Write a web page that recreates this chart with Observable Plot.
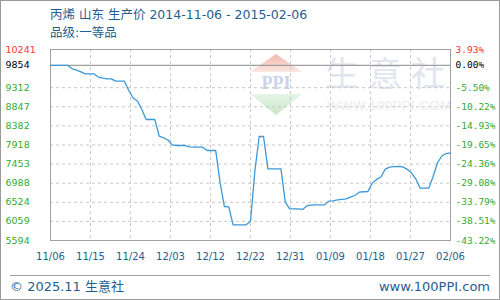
<!DOCTYPE html>
<html>
<head>
<meta charset="utf-8">
<script src="https://cdn.jsdelivr.net/npm/d3@7"></script>
<script src="https://cdn.jsdelivr.net/npm/@observablehq/plot@0.6"></script>
<style>
  body { margin: 0; background: #fff; }
  #wrap { position: relative; width: 500px; height: 300px; overflow: hidden; background: #fff; font-family: "DejaVu Sans", "Noto Sans CJK SC", sans-serif; }
  .abs { position: absolute; }
  #title { left: 50px; top: 6px; font-size: 12.5px; color: #1f5e8e; white-space: nowrap; line-height: 18px; }
  #sub { left: 50px; top: 24px; font-size: 12.5px; color: #1f5e8e; white-space: nowrap; line-height: 18px; }
  #footline { left: 10px; top: 275px; width: 480px; height: 0; border-top: 1px solid #a0a0a0; }
  #copy { left: 10px; top: 278px; font-size: 13px; color: #1f5e8e; line-height: 18px; white-space: nowrap; }
  #site { right: 10px; top: 278px; font-size: 13px; color: #1f5e8e; line-height: 18px; white-space: nowrap; }
  #border { left: 0; top: 0; width: 500px; height: 300px; box-sizing: border-box; border: 1px solid #9a9a9a; pointer-events: none; }
  #wm1 { left: 325px; top: 50px; font-size: 34px; color: #e1e5ee; letter-spacing: 9px; white-space: nowrap; font-family: "Noto Sans CJK SC", sans-serif; line-height: 44px; }
  #wm2 { left: 327px; top: 98px; font-size: 13px; color: #ececec; white-space: nowrap; letter-spacing: 0.6px; font-family: "Liberation Sans", sans-serif; line-height: 16px; }
  #chart { left: 0; top: 0; }
</style>
</head>
<body>
<div id="wrap">
  <svg class="abs" style="left:249px;top:53px" width="54" height="64">
    <defs>
      <linearGradient id="gr" x1="0" y1="0" x2="0" y2="1">
        <stop offset="0" stop-color="#f4b8ae"/><stop offset="1" stop-color="#fbe6e2"/>
      </linearGradient>
      <linearGradient id="gg" x1="0" y1="0" x2="0" y2="1">
        <stop offset="0" stop-color="#e6f4e6"/><stop offset="1" stop-color="#c9e6c9"/>
      </linearGradient>
    </defs>
    <polygon points="27,1 1,19 53,19" fill="url(#gr)"/>
    <text x="27" y="36" text-anchor="middle" font-family="Liberation Serif, serif" font-weight="bold" font-size="18" fill="#c9d3ea">PPI</text>
    <polygon points="1,41 53,41 27,62" fill="url(#gg)"/>
  </svg>
  <div id="wm1" class="abs">生意社</div>
  <div id="wm2" class="abs">WWW.100PPI.COM</div>
  <div id="chart" class="abs"></div>
  <div id="title" class="abs">丙烯 山东 生产价 2014-11-06 - 2015-02-06</div>
  <div id="sub" class="abs">品级:一等品</div>
  <div id="footline" class="abs"></div>
  <div id="copy" class="abs">© 2025.11 生意社</div>
  <div id="site" class="abs">www.100PPI.com</div>
  <div id="border" class="abs"></div>
</div>
<script>
const dates = [
  "2014-11-06","2014-11-07","2014-11-08","2014-11-09","2014-11-10","2014-11-11","2014-11-12","2014-11-13","2014-11-14","2014-11-15",
  "2014-11-16","2014-11-17","2014-11-18","2014-11-19","2014-11-20","2014-11-21","2014-11-22","2014-11-23","2014-11-24","2014-11-25",
  "2014-11-26","2014-11-27","2014-11-28","2014-11-29","2014-11-30","2014-12-01","2014-12-02","2014-12-03","2014-12-04","2014-12-05",
  "2014-12-06","2014-12-07","2014-12-08","2014-12-09","2014-12-10","2014-12-11","2014-12-12","2014-12-13","2014-12-14","2014-12-15",
  "2014-12-16","2014-12-17","2014-12-18","2014-12-19","2014-12-20","2014-12-21","2014-12-22","2014-12-23","2014-12-24","2014-12-25",
  "2014-12-26","2014-12-27","2014-12-28","2014-12-29","2014-12-30","2014-12-31","2015-01-01","2015-01-02","2015-01-03","2015-01-04",
  "2015-01-05","2015-01-06","2015-01-07","2015-01-08","2015-01-09","2015-01-10","2015-01-11","2015-01-12","2015-01-13","2015-01-14",
  "2015-01-15","2015-01-16","2015-01-17","2015-01-18","2015-01-19","2015-01-20","2015-01-21","2015-01-22","2015-01-23","2015-01-24",
  "2015-01-25","2015-01-26","2015-01-27","2015-01-28","2015-01-29","2015-01-30","2015-01-31","2015-02-01","2015-02-02","2015-02-03",
  "2015-02-04","2015-02-05","2015-02-06"
];
const prices = [
  9854, 9854, 9854, 9854, 9854, 9770, 9740, 9695, 9650, 9650,
  9650, 9570, 9545, 9528, 9528, 9470, 9470, 9470, 9243, 9060,
  8990, 8780, 8538, 8538, 8538, 8132, 8093, 8040, 7920, 7905,
  7905, 7905, 7870, 7864, 7864, 7864, 7784, 7784, 7784, 7000,
  6421, 6410, 5976, 5976, 5976, 5976, 6060, 7280, 8124, 8124,
  7338, 7338, 7338, 7338, 6526, 6365, 6365, 6365, 6350, 6440,
  6455, 6463, 6463, 6463, 6550, 6560, 6580, 6595, 6609, 6650,
  6689, 6769, 6780, 6786, 6990, 7080, 7140, 7330, 7377, 7390,
  7394, 7385, 7330, 7241, 7095, 6870, 6866, 6866, 7150, 7480,
  7650, 7710, 7728
];
const xLabels = ["11/06","11/15","11/24","12/03","12/12","12/22","12/31","01/09","01/18","01/27","02/06"];
const yTicks = [10241, 9854, 9312, 8847, 8382, 7918, 7453, 6988, 6524, 6059, 5594];
const pctLabels = ["3.93%","0.00%","-5.50%","-10.22%","-14.93%","-19.65%","-24.36%","-29.08%","-33.79%","-38.51%","-43.22%"];
const baseValue = 9854;

const start = new Date(dates[0]);
const dayIdx = dates.map(s => Math.round((new Date(s) - start) / 864e5));
const nDays = dayIdx[dayIdx.length - 1];
const data = prices.map((v, i) => ({day: dayIdx[i], value: v}));
const xTickPos = xLabels.map((_, i) => i * nDays / (xLabels.length - 1));
const labelColor = d => d > baseValue ? "#ff3333" : d === baseValue ? "#000000" : "#33aa33";
const gridY = yTicks.filter(d => d !== baseValue && d !== yTicks[0]);

const chart = Plot.plot({
  width: 500,
  height: 300,
  marginLeft: 50,
  marginRight: 50,
  marginTop: 49,
  marginBottom: 60,
  style: {background: "transparent", fontFamily: "DejaVu Sans, sans-serif", overflow: "visible"},
  x: {domain: [0, nDays], axis: null},
  y: {domain: [yTicks[yTicks.length - 1], yTicks[0]], axis: null},
  color: {type: "identity"},
  marks: [
    Plot.ruleY(gridY, {stroke: "#c8c8c8", strokeDasharray: "3,3"}),
    Plot.ruleX(xTickPos.slice(1, -1), {stroke: "#c8c8c8", strokeDasharray: "3,3"}),
    Plot.ruleY([baseValue], {stroke: "#a0a0a0", strokeWidth: 1.2}),
    Plot.frame({stroke: "#a0a0a0"}),
    Plot.line(data, {x: "day", y: "value", stroke: "#3c98d8", strokeWidth: 1.3}),
    Plot.text(yTicks, {y: d => d, text: d => String(d), frameAnchor: "left", dx: -45, textAnchor: "start", fill: labelColor, fontSize: 9.5, fontFamily: "DejaVu Sans"}),
    Plot.text(yTicks, {y: d => d, text: (d, i) => pctLabels[i], frameAnchor: "right", dx: 5, textAnchor: "start", fill: labelColor, fontSize: 9.5, fontFamily: "DejaVu Sans Mono"}),
    Plot.axisX(xTickPos, {anchor: "bottom", tickSize: 0, tickPadding: 12, tickFormat: (d, i) => xLabels[i], fill: "#1f5e8e", fontSize: 10, label: null})
  ]
});
document.getElementById("chart").appendChild(chart);
</script>
</body>
</html>
